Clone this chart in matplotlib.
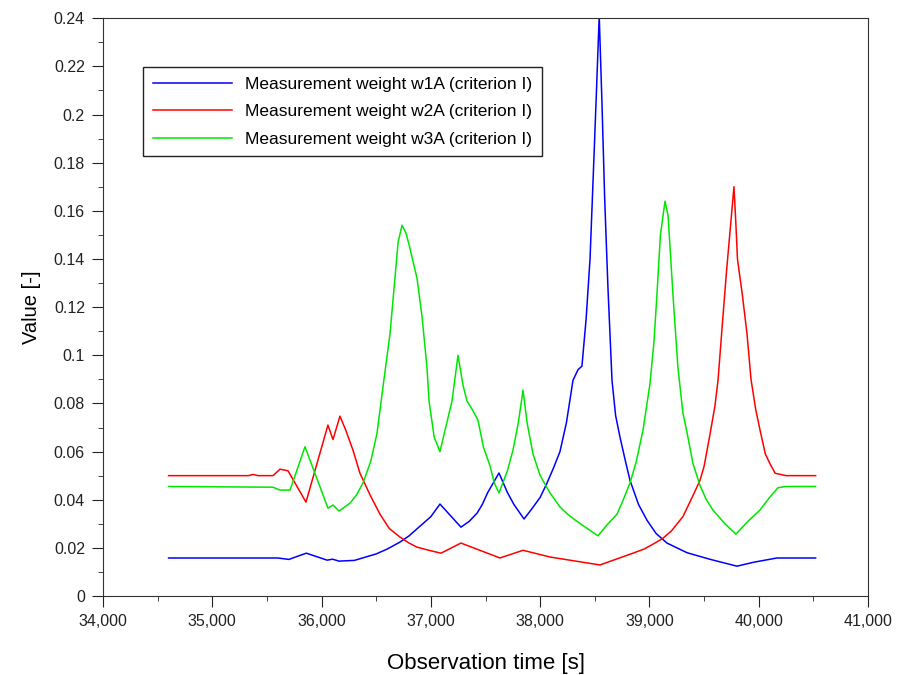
import numpy as np
import matplotlib
matplotlib.use('Agg')
import matplotlib.pyplot as plt
from matplotlib.ticker import MultipleLocator, FuncFormatter

plt.rcParams['font.family'] = ['Liberation Sans', 'DejaVu Sans']

# w1A (blue)
t_w1 = [34600, 35600, 35700, 35860, 36050, 36100, 36160, 36300, 36500, 36600,
        36717, 36800, 36900, 37000, 37083, 37275, 37350, 37422, 37470, 37520,
        37623, 37700, 37760, 37852, 37920, 38000, 38062, 38120, 38181, 38240,
        38300, 38346, 38382, 38420, 38456, 38490, 38515, 38540, 38565, 38590,
        38620, 38657, 38690, 38730, 38780, 38822, 38900, 38977, 39060, 39160,
        39343, 39550, 39800, 39950, 40166, 40520]
v_w1 = [0.0158, 0.0158, 0.0152, 0.0178, 0.0149, 0.0153, 0.0145, 0.0148, 0.0175, 0.0195,
        0.0224, 0.0250, 0.0290, 0.0330, 0.0382, 0.0286, 0.0310, 0.0344, 0.0380, 0.0430,
        0.0511, 0.0430, 0.0380, 0.0320, 0.0360, 0.0410, 0.0469, 0.0530, 0.0600, 0.0720,
        0.0896, 0.0940, 0.0955, 0.1150, 0.1400, 0.1800, 0.2100, 0.2410, 0.2050, 0.1650,
        0.1280, 0.0896, 0.0750, 0.0660, 0.0560, 0.0480, 0.0380, 0.0315, 0.0260, 0.0220,
        0.0180, 0.0153, 0.0124, 0.0140, 0.0158, 0.0158]

# w2A (red)
t_w2 = [34600, 35330, 35372, 35420, 35555, 35620, 35693, 35857, 36058, 36104,
        36168, 36220, 36287, 36351, 36443, 36534, 36620, 36717, 36800, 36873,
        36980, 37092, 37275, 37632, 37843, 38090, 38547, 38849, 38950, 39050,
        39123, 39200, 39306, 39380, 39462, 39500, 39553, 39599, 39627, 39672,
        39705, 39736, 39773, 39790, 39805, 39850, 39892, 39929, 39970, 40011,
        40060, 40102, 40150, 40200, 40250, 40520]
v_w2 = [0.0500, 0.0500, 0.0505, 0.0500, 0.0500, 0.0527, 0.0520, 0.0390, 0.0710, 0.0650,
        0.0747, 0.0690, 0.0606, 0.0510, 0.0420, 0.0340, 0.0280, 0.0245, 0.0220, 0.0203,
        0.0190, 0.0178, 0.0220, 0.0158, 0.0190, 0.0162, 0.0129, 0.0178, 0.0195, 0.0220,
        0.0240, 0.0270, 0.0330, 0.0400, 0.0480, 0.0540, 0.0670, 0.0790, 0.0896, 0.1160,
        0.1350, 0.1510, 0.1700, 0.1550, 0.1400, 0.1250, 0.1090, 0.0900, 0.0780, 0.0690,
        0.0590, 0.0550, 0.0510, 0.0505, 0.0500, 0.0500]

# w3A (green)
t_w3 = [34600, 35555, 35620, 35711, 35848, 36058, 36104, 36159, 36260, 36320,
        36379, 36450, 36507, 36562, 36626, 36671, 36700, 36736, 36770, 36800,
        36873, 36919, 36964, 36983, 37030, 37083, 37193, 37248, 37294, 37330,
        37385, 37431, 37480, 37541, 37580, 37623, 37700, 37751, 37800, 37843,
        37880, 37934, 38000, 38090, 38181, 38250, 38337, 38400, 38529, 38620,
        38703, 38760, 38822, 38880, 38941, 39004, 39040, 39068, 39100, 39142,
        39170, 39215, 39260, 39306, 39343, 39398, 39462, 39520, 39581, 39690,
        39791, 39900, 40011, 40100, 40176, 40250, 40520]
v_w3 = [0.0455, 0.0452, 0.0440, 0.0440, 0.0620, 0.0365, 0.0378, 0.0353, 0.0386, 0.0420,
        0.0470, 0.0560, 0.0676, 0.0870, 0.1090, 0.1320, 0.1470, 0.1540, 0.1510, 0.1460,
        0.1320, 0.1160, 0.0950, 0.0810, 0.0660, 0.0600, 0.0810, 0.1000, 0.0875, 0.0810,
        0.0770, 0.0730, 0.0620, 0.0540, 0.0470, 0.0428, 0.0520, 0.0606, 0.0720, 0.0855,
        0.0720, 0.0590, 0.0500, 0.0428, 0.0370, 0.0340, 0.0310, 0.0290, 0.0250, 0.0300,
        0.0340, 0.0400, 0.0470, 0.0560, 0.0690, 0.0880, 0.1050, 0.1250, 0.1500, 0.1640,
        0.1580, 0.1250, 0.0950, 0.0760, 0.0680, 0.0550, 0.0460, 0.0400, 0.0357, 0.0300,
        0.0257, 0.0310, 0.0357, 0.0410, 0.0450, 0.0455, 0.0455]

labels = ['Measurement weight w1A (criterion I)',
          'Measurement weight w2A (criterion I)',
          'Measurement weight w3A (criterion I)']

fig = plt.figure(figsize=(8.99, 6.75), dpi=100)
ax = fig.add_axes([0.1146, 0.117, 0.851, 0.856])

ax.plot(t_w1, v_w1, color='#0000ff', linewidth=1.1, label=labels[0])
ax.plot(t_w2, v_w2, color='#ff0000', linewidth=1.1, label=labels[1])
ax.plot(t_w3, v_w3, color='#00e600', linewidth=1.1, label=labels[2])

ax.set_xlim(34000, 41000)
ax.set_ylim(0, 0.24)
ax.xaxis.set_major_locator(MultipleLocator(1000))
ax.xaxis.set_minor_locator(MultipleLocator(500))
ax.yaxis.set_major_locator(MultipleLocator(0.02))
ax.yaxis.set_minor_locator(MultipleLocator(0.01))
ax.xaxis.set_major_formatter(FuncFormatter(lambda x, p: f'{int(round(x)):,}'))
ax.yaxis.set_major_formatter(FuncFormatter(lambda y, p: f'{round(y, 2):g}'))
ax.tick_params(which='both', direction='out', top=False, right=False,
               labelsize=11.5, colors='#222222')
ax.tick_params(which='major', length=8, pad=5)
ax.tick_params(which='minor', length=3.5)
ax.tick_params(axis='y', which='major', pad=5)
for spine in ax.spines.values():
    spine.set_edgecolor('#333333')

ax.set_xlabel('Observation time [s]', fontsize=16, labelpad=17)
ax.set_ylabel('Value [-]', fontsize=14.5, labelpad=9)

leg = ax.legend(loc='upper left', bbox_to_anchor=(0.0523, 0.915), borderaxespad=0,
                fontsize=12.5, handlelength=4.6, handletextpad=0.75, borderpad=0.55,
                labelspacing=0.7, fancybox=False, framealpha=1)
leg.get_frame().set_edgecolor('#222222')
leg.get_frame().set_linewidth(1.0)

fig.savefig('out.png', dpi=100)
